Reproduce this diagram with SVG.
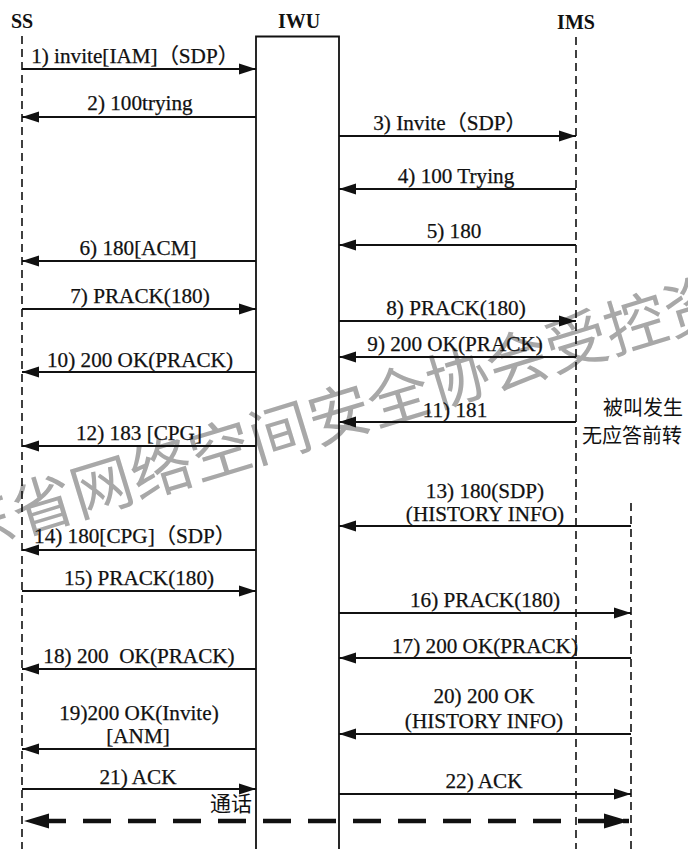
<svg xmlns="http://www.w3.org/2000/svg" width="688" height="849" viewBox="0 0 688 849">
<style>
.lbl{font-family:"Liberation Serif","Noto Sans CJK SC",serif;font-size:21.2px;fill:#111;text-anchor:middle;white-space:pre;stroke:#111;stroke-width:0.25}
.hdr{font-family:"Liberation Serif","Noto Sans CJK SC",serif;font-size:20px;font-weight:bold;fill:#111;text-anchor:middle}
.cjk{font-family:"Noto Sans CJK SC",sans-serif;font-size:20px;fill:#111}
.life{stroke:#111;stroke-width:1.6;stroke-dasharray:8 5;fill:none}
.msg{stroke:#111;stroke-width:1.8;fill:none}
.wm{font-family:"Noto Sans CJK SC",sans-serif;font-size:62px;fill:#a8a8a8}
</style>
<defs>
<marker id="ah" markerUnits="userSpaceOnUse" markerWidth="18" markerHeight="12" refX="17" refY="6" orient="auto">
<path d="M0,0.5 L17,6 L0,11.5 z" fill="#111"/>
</marker>
<marker id="ahb" markerUnits="userSpaceOnUse" markerWidth="26" markerHeight="16" refX="25" refY="8" orient="auto-start-reverse">
<path d="M0,0.5 L25,8 L0,15.5 z" fill="#111"/>
</marker>
</defs>
<rect width="688" height="849" fill="#fff"/>
<g id="watermark">
<text class="wm" transform="translate(-99,572) rotate(-17)">广东省网络空间安全协会受控资料</text>
</g>
<g id="SS">
<text class="hdr" x="22" y="28">SS</text>
<line class="life" x1="22" y1="36" x2="22" y2="849"/>
</g>
<g id="IWU">
<text class="hdr" x="299" y="28">IWU</text>
<path d="M256,849 V36.5 H339 V849" fill="none" stroke="#111" stroke-width="1.8"/>
</g>
<g id="IMS">
<text class="hdr" x="576" y="29">IMS</text>
<line class="life" x1="576" y1="37" x2="576" y2="849"/>
</g>
<g id="IMS2">
<line class="life" x1="631" y1="503" x2="631" y2="849"/>
</g>
<g id="notes">
<text class="cjk" x="603" y="415">被叫发生</text>
<text class="cjk" x="582" y="443">无应答前转</text>
<text class="cjk" x="210" y="811" style="font-size:21px">通话</text>
</g>
<g id="connectors">
<line class="msg" x1="22" y1="69" x2="256" y2="69" marker-end="url(#ah)"/>
<line class="msg" x1="256" y1="117" x2="22" y2="117" marker-end="url(#ah)"/>
<line class="msg" x1="339" y1="136" x2="576" y2="136" marker-end="url(#ah)"/>
<line class="msg" x1="576" y1="189" x2="339" y2="189" marker-end="url(#ah)"/>
<line class="msg" x1="576" y1="245" x2="339" y2="245" marker-end="url(#ah)"/>
<line class="msg" x1="256" y1="261" x2="22" y2="261" marker-end="url(#ah)"/>
<line class="msg" x1="22" y1="309" x2="256" y2="309" marker-end="url(#ah)"/>
<line class="msg" x1="339" y1="321" x2="576" y2="321" marker-end="url(#ah)"/>
<line class="msg" x1="576" y1="357" x2="339" y2="357" marker-end="url(#ah)"/>
<line class="msg" x1="256" y1="372" x2="22" y2="372" marker-end="url(#ah)"/>
<line class="msg" x1="576" y1="422" x2="339" y2="422" marker-end="url(#ah)"/>
<line class="msg" x1="256" y1="446" x2="22" y2="446" marker-end="url(#ah)"/>
<line class="msg" x1="631" y1="526" x2="339" y2="526" marker-end="url(#ah)"/>
<line class="msg" x1="256" y1="550" x2="22" y2="550" marker-end="url(#ah)"/>
<line class="msg" x1="22" y1="591" x2="256" y2="591" marker-end="url(#ah)"/>
<line class="msg" x1="339" y1="613" x2="631" y2="613" marker-end="url(#ah)"/>
<line class="msg" x1="631" y1="658" x2="339" y2="658" marker-end="url(#ah)"/>
<line class="msg" x1="256" y1="669" x2="22" y2="669" marker-end="url(#ah)"/>
<line class="msg" x1="631" y1="734" x2="339" y2="734" marker-end="url(#ah)"/>
<line class="msg" x1="256" y1="749" x2="22" y2="749" marker-end="url(#ah)"/>
<line class="msg" x1="22" y1="789" x2="256" y2="789" marker-end="url(#ah)"/>
<line class="msg" x1="339" y1="794" x2="631" y2="794" marker-end="url(#ah)"/>
<line x1="24" y1="821" x2="629" y2="821" stroke="#111" stroke-width="4.5" stroke-dasharray="28 17" stroke-dashoffset="-14" marker-start="url(#ahb)" marker-end="url(#ahb)"/>
</g>
<g id="labels">
<text class="lbl" x="135" y="63">1) invite[IAM]（SDP）</text>
<text class="lbl" x="140" y="110">2) 100trying</text>
<text class="lbl" x="450" y="130">3) Invite（SDP）</text>
<text class="lbl" x="456" y="183">4) 100 Trying</text>
<text class="lbl" x="454" y="238">5) 180</text>
<text class="lbl" x="138" y="255">6) 180[ACM]</text>
<text class="lbl" x="140" y="303">7) PRACK(180)</text>
<text class="lbl" x="456" y="315">8) PRACK(180)</text>
<text class="lbl" x="455" y="351">9) 200 OK(PRACK)</text>
<text class="lbl" x="140" y="367">10) 200 OK(PRACK)</text>
<text class="lbl" x="455" y="417">11) 181</text>
<text class="lbl" x="139" y="440">12) 183 [CPG]</text>
<text class="lbl" x="485" y="498">13) 180(SDP)</text>
<text class="lbl" x="485" y="521">(HISTORY INFO)</text>
<text class="lbl" x="135" y="543">14) 180[CPG]（SDP）</text>
<text class="lbl" x="139" y="585">15) PRACK(180)</text>
<text class="lbl" x="485" y="607">16) PRACK(180)</text>
<text class="lbl" x="485" y="653">17) 200 OK(PRACK)</text>
<text class="lbl" x="139" y="663">18) 200  OK(PRACK)</text>
<text class="lbl" x="139" y="720">19)200 OK(Invite)</text>
<text class="lbl" x="138" y="743">[ANM]</text>
<text class="lbl" x="484" y="703">20) 200 OK</text>
<text class="lbl" x="484" y="728">(HISTORY INFO)</text>
<text class="lbl" x="138" y="784">21) ACK</text>
<text class="lbl" x="484" y="788">22) ACK</text>
</g>
</svg>
